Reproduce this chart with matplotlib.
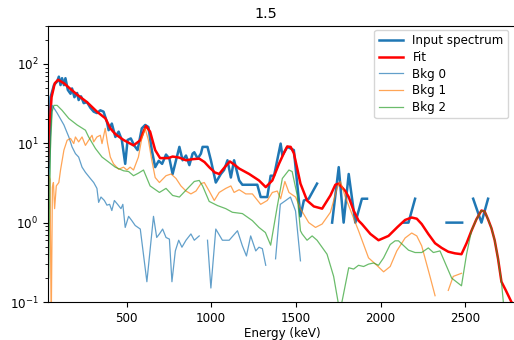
import numpy as np
import matplotlib
matplotlib.use("Agg")
import matplotlib.pyplot as plt

nan = np.nan

# --- Input spectrum (counts per bin, NaN = empty bin) ---
e_data = [40, 51, 71, 90, 100, 110, 119, 130, 139, 153, 169, 178, 192, 208, 217, 231, 247,
          266, 286, 306, 325, 345, 364, 384, 394, 413, 434, 453, 472, 492, 506, 525, 545,
          565, 590, 610, 629, 649, 669, 690, 710, 733, 753, 772, 792, 812, 831, 851, 871,
          890, 900, 920, 939, 949, 978, 998, 1027, 1057, 1076, 1096, 1116, 1135, 1165,
          1184, 1272, 1292, 1331, 1351, 1371, 1410, 1420, 1449, 1469, 1488, 1527, 1547,
          1576, 1625, 1670, 1714, 1753, 1782, 1812, 1851, 1890, 1920, 2000, 2135, 2165,
          2204, 2300, 2390, 2440, 2482, 2515, 2547, 2596, 2635, 2680]
y_data = [5.0, 38, 54, 60, 69, 54, 66, 54, 66, 47, 42, 49, 38, 43, 35, 39, 32,
          33, 28, 25, 24, 26, 25, 18.6, 14.6, 17.7, 12, 14, 11, 5.5, 11, 11.5, 9.4,
          8.2, 15.4, 17, 16, 8.2, 5.0, 6.0, 5.5, 7.2, 6.4, 4.1, 6.1, 9.0, 6.1, 7.0, 5.3,
          7.4, 7.7, 6.4, 7.4, 9.0, 9.0, 6.1, 3.2, 4.1, 4.6, 6.1, 3.7, 6.1, 3.4,
          3.0, 3.0, 2.1, 2.1, 3.9, 3.9, 9.9, 7.0, 9.0, 8.6, 8.2, 1.2, 1.9,
          2.0, 3.1, nan, 1.0, 5.0, 1.0, 4.1, 1.0, 2.0, 2.0, nan, 1.0, 1.0,
          2.0, nan, 1.0, 1.0, 1.0, nan, 2.0, 1.0, 2.0, nan]

# --- Fit (total model) ---
e_fit = [38, 47, 57, 76, 96, 130, 170, 208, 266, 325, 375, 404, 434, 482, 541, 581, 600,
         615, 639, 669, 698, 747, 772, 810, 851, 890, 929, 960, 988, 1020, 1047, 1080,
         1110, 1140, 1165, 1224, 1282, 1322, 1361, 1400, 1429, 1449, 1469, 1488, 1508,
         1527, 1566, 1606, 1655, 1704, 1733, 1753, 1792, 1812, 1841, 1870, 1890, 1940,
         1988, 2047, 2100, 2145, 2184, 2214, 2243, 2282, 2322, 2361, 2400, 2440, 2478,
         2508, 2537, 2566, 2596, 2615, 2635, 2655, 2674, 2694, 2714, 2740, 2773, 2800]
y_fit = [5.0, 18, 38, 57, 63, 57, 48, 41, 33, 25, 20.6, 15.4, 13, 11, 9.4, 10.9, 14,
         16.5, 14, 8.2, 6.5, 6.5, 6.8, 6.6, 6.1, 6.3, 6.4, 5.8, 5.0, 4.3, 4.1, 5.0,
         5.9, 5.3, 4.8, 4.1, 3.4, 2.8, 3.4, 5.5, 7.5, 9.1, 9.0, 7.5, 4.8,
         3.1, 1.9, 1.6, 1.5, 2.2, 3.0, 3.1, 2.5, 2.1, 1.42, 1.06, 0.96, 0.72,
         0.6, 0.68, 0.88, 1.08, 1.16, 1.12, 0.96, 0.72, 0.55, 0.48, 0.43, 0.41, 0.40,
         0.55, 0.79, 1.1, 1.42, 1.38, 1.1, 0.85, 0.6, 0.35, 0.18, 0.14, 0.1, 0.085]

# --- Bkg 0 ---
e_bkg0 = [40, 50, 61, 90, 130, 159, 178, 198, 217, 237, 257, 286, 306, 325, 335, 349, 369,
          384, 400, 413, 428, 447, 467, 478, 492, 512, 531, 551, 581, 620, 659, 678, 694,
          713, 733, 753, 768, 788, 808, 827, 851, 880, 900, 929, 955, 978, 998, 1027,
          1066, 1106, 1155, 1184, 1208, 1233, 1263, 1282, 1302, 1322, 1350, 1380, 1408,
          1440, 1468, 1498, 1527, 1550]
y_bkg0 = [1.5, 12, 30, 24, 17, 12, 9, 7.4, 6.7, 5.0, 4.3, 3.6, 3.2, 2.7, 1.8, 2.1, 1.9,
          1.66, 1.7, 1.42, 1.9, 1.7, 1.5, 1.7, 0.87, 1.2, 1.06, 0.92, 0.83, 0.18, 1.2, 0.65, 0.72,
          0.83, 0.65, 0.62, 0.18, 0.44, 0.6, 0.49, 0.6, 0.72, 0.6, 0.68, nan, 0.6, 0.15, 0.83,
          0.6, 0.6, 0.79, 0.51, 0.38, 0.68, 0.44, 0.49, 0.47, 0.29, nan, 0.35, 1.7,
          1.9, 2.1, 1.4, 0.33, nan]

# --- Bkg 1 ---
e_bkg1 = [40, 48, 55, 62, 68, 75, 85, 100, 110, 130, 149, 169, 188, 198, 217, 237, 257,
          276, 296, 306, 325, 345, 355, 374, 388, 404, 423, 453, 482, 502, 521, 541, 570,
          590, 610, 629, 649, 669, 694, 733, 763, 792, 821, 851, 880, 910, 939, 959, 988,
          1018, 1047, 1086, 1116, 1135, 1165, 1204, 1243, 1292, 1331, 1361, 1390, 1410,
          1435, 1459, 1498, 1527, 1576, 1616, 1655, 1704, 1743, 1763, 1792, 1870, 1929,
          1978, 2018, 2057, 2096, 2145, 2184, 2214, 2243, 2292, 2322, 2360, 2400, 2429,
          2478, 2500]
y_bkg1 = [4.0, 3.5, 0.05, 2.8, 3.2, 1.5, 2.9, 3.2, 4.6, 8.2, 10.9, 11.5, 9.9, 12, 10.4, 12, 9.4,
          10.9, 12.6, 10.4, 12, 12.6, 9.9, 15.4, 9.9, 6.7, 5.5, 4.7, 5.0, 4.6, 5.0, 4.6, 6.7,
          11.5, 15.4, 10.9, 6.1, 3.7, 3.2, 3.9, 4.1, 3.6, 2.9, 2.5, 2.3, 2.5, 3.1, 3.2, 2.5,
          1.9, 2.4, 2.7, 2.9, 2.4, 2.6, 2.3, 2.3, 1.7, 1.9, 2.4, 2.5, 2.0,
          3.3, 2.4, 2.1, 1.5, 1.0, 0.87, 0.96, 1.35, 2.7, 3.3, 2.1, 0.79, 0.36,
          0.29, 0.24, 0.28, 0.44, 0.64, 0.74, 0.68, 0.51, 0.21, 0.12, nan, 0.14, 0.21,
          0.23, nan]

# --- Bkg 2 ---
e_bkg2 = [40, 50, 60, 71, 90, 119, 159, 208, 257, 276, 316, 355, 394, 433, 482, 512, 541,
          570, 600, 639, 694, 733, 772, 812, 861, 900, 929, 949, 988, 1037, 1086, 1125,
          1184, 1243, 1282, 1320, 1351, 1390, 1420, 1459, 1478, 1508, 1527, 1537, 1566,
          1596, 1625, 1684, 1723, 1753, 1772, 1812, 1841, 1870, 1900, 1929, 1959, 1988,
          2018, 2057, 2086, 2106, 2165, 2204, 2243, 2282, 2312, 2351, 2420, 2478, 2508,
          2537, 2566, 2596, 2615, 2635, 2655, 2674, 2694, 2714, 2735]
y_bkg2 = [0.2, 8, 25, 30, 30, 26, 20.5, 17, 14.6, 12, 8.6, 6.7, 5.8, 5.0, 4.5, 4.4, 3.9,
          4.2, 4.6, 2.9, 2.4, 2.7, 2.2, 2.1, 2.7, 3.3, 3.4, 2.9, 1.85, 1.64, 1.5, 1.35,
          1.3, 1.06, 0.87, 0.75, 0.52, 1.6, 3.6, 4.6, 4.4, 2.2, 0.79, 0.72, 0.6,
          0.68, 0.6, 0.4, 0.21, 0.09, 0.1, 0.27, 0.26, 0.29, 0.28, 0.3, 0.31, 0.29,
          0.36, 0.53, 0.59, 0.59, 0.45, 0.42, 0.42, 0.48, 0.42, 0.44, 0.2, 0.16, 0.4,
          0.79, 1.1, 1.42, 1.38, 1.1, 0.85, 0.6, 0.35, 0.18, 0.06]

plt.rcParams['font.size'] = 8.6

fig = plt.figure(figsize=(5.14, 3.40), dpi=100)
ax = fig.add_axes([48 / 514, 38 / 340, 468 / 514, 276 / 340])

ax.plot(e_data, y_data, color='#1f77b4', linewidth=1.8, label='Input spectrum')
ax.plot(e_fit, y_fit, color='red', linewidth=1.8, label='Fit')
ax.plot(e_bkg0, y_bkg0, color='#1f77b4', linewidth=0.9, alpha=0.7, label='Bkg 0')
ax.plot(e_bkg1, y_bkg1, color='#ff7f0e', linewidth=0.9, alpha=0.7, label='Bkg 1')
ax.plot(e_bkg2, y_bkg2, color='#2ca02c', linewidth=0.9, alpha=0.7, label='Bkg 2')

ax.set_yscale('log')
ax.set_xlim(36, 2800)
ax.set_ylim(0.1, 300)
ax.set_xticks([500, 1000, 1500, 2000, 2500])
ax.set_xlabel('Energy (keV)', labelpad=2)
ax.set_title('1.5', x=(266 - 48) / 468)
# legend box ends a few pixels left of the picture edge
ax.legend(loc='upper right', labelspacing=0.3, borderaxespad=0.3,
          bbox_to_anchor=((512 - 48) / 468, 1.0))

fig.savefig('out.png', dpi=100)
